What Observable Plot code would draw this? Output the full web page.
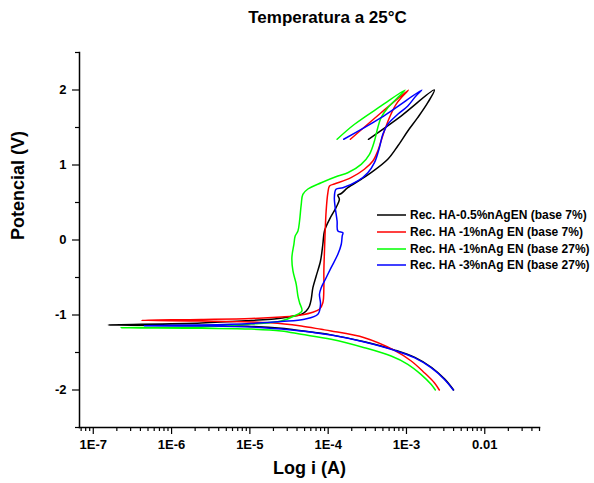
<!DOCTYPE html>
<html><head><meta charset="utf-8">
<script src="https://cdn.jsdelivr.net/npm/d3@7"></script>
<script src="https://cdn.jsdelivr.net/npm/@observablehq/plot@0.6"></script>
<style>
body{margin:0;background:#fff;}
#wrap{position:relative;width:594px;height:483px;font-family:"Liberation Sans",Arial,sans-serif;}
#legend{position:absolute;left:377px;top:207px;font-size:12px;font-weight:bold;color:#000;}
.row{display:flex;align-items:center;height:16.7px;white-space:nowrap;}
.row svg{margin-right:4px;}
</style></head><body><div id="wrap"><div id="legend"></div></div>
<script>
const title = "Temperatura a 25°C";
const xLabel = "Log i (A)";
const yLabel = "Potencial (V)";
const names = ["Rec. HA-0.5%nAgEN (base 7%)", "Rec. HA -1%nAg EN (base 7%)", "Rec. HA -1%nAg EN (base 27%)", "Rec. HA -3%nAg EN (base 27%)"];
const colors = ["#000000", "#ff0000", "#00ff00", "#0000ff"];

const xDomain = [6.67e-8, 0.05];
const yDomain = [-2.5, 2.5];
const xTicks = [1e-7, 1e-6, 1e-5, 1e-4, 1e-3, 1e-2];
const xTickLabels = ["1E-7", "1E-6", "1E-5", "1E-4", "1E-3", "0.01"];
const yTicks = [-2, -1, 0, 1, 2];
const yMinor = [-2.5, -1.5, -0.5, 0.5, 1.5, 2.5];
const minorMult = [2, 3, 4, 5, 6, 7, 8, 9];
const decades = [-8, -7, -6, -5, -4, -3, -2];

// Black: Rec. HA-0.5%nAgEN (base 7%)
const blackI = [4.0e-3, 3.08e-3, 2.1e-3, 1.28e-3, 7.1e-4, 2.9e-4, 1.09e-4, 4.53e-5, 2.52e-5, 1.04e-5, 2.4e-6, 1.55e-7,
  2.4e-6, 1.04e-5, 2.05e-5, 3.37e-5, 4.53e-5, 5.24e-5, 5.77e-5, 6.07e-5, 6.38e-5, 7.03e-5,
  7.98e-5, 8.55e-5, 8.97e-5, 1.04e-4, 1.26e-4, 1.39e-4, 1.33e-4, 1.47e-4, 1.78e-4, 2.64e-4,
  3.53e-4, 5.77e-4, 7.74e-4, 1.04e-3, 1.39e-3, 1.87e-3, 2.27e-3, 8.53e-4, 3.27e-4];
const blackE = [-2.0, -1.855, -1.70, -1.565, -1.468, -1.358, -1.265, -1.21, -1.178, -1.152, -1.14, -1.133,
  -1.107, -1.073, -1.053, -1.02, -0.991, -0.947, -0.88, -0.791, -0.636, -0.48,
  -0.28, -0.057, 0.12, 0.276, 0.431, 0.543, 0.6, 0.62, 0.697, 0.809,
  0.897, 1.076, 1.253, 1.453, 1.631, 1.831, 2.0, 1.653, 1.343];

// Red: Rec. HA -1%nAg EN (base 7%)
const redI = [2.63e-3, 2.27e-3, 1.69e-3, 1.15e-3, 7.01e-4, 2.9e-4, 1.09e-4, 8.15e-5, 4.53e-5, 2.75e-5, 1.04e-5, 2.4e-6, 4.12e-7,
  2.4e-6, 1.04e-5, 2.52e-5, 3.68e-5, 6.07e-5, 7.74e-5, 8.55e-5, 8.81e-5, 8.81e-5, 8.97e-5, 9.16e-5, 9.42e-5, 9.91e-5,
  1.04e-4, 1.2e-4, 1.96e-4, 2.9e-4, 3.72e-4, 4.3e-4, 4.74e-4, 5.22e-4, 6.05e-4, 7.36e-4, 8.97e-4, 1.06e-3,
  4.74e-4, 1.92e-4];
const redE = [-2.0, -1.903, -1.769, -1.613, -1.471, -1.303, -1.213, -1.191, -1.147, -1.12, -1.093, -1.08, -1.071,
  -1.06, -1.047, -1.027, -1.013, -0.969, -0.924, -0.836, -0.636, -0.413, -0.147, 0.12, 0.387, 0.627,
  0.72, 0.747, 0.831, 0.943, 1.053, 1.187, 1.32, 1.453, 1.631, 1.809, 1.92, 2.0,
  1.697, 1.343];

// Green: Rec. HA -1%nAg EN (base 27%)
const greenI = [2.34e-3, 2.06e-3, 1.53e-3, 1.04e-3, 6.37e-4, 2.9e-4, 1.09e-4, 4.53e-5, 2.52e-5, 1.04e-5, 2.4e-6, 2.24e-7,
  2.4e-6, 1.04e-5, 2.52e-5, 3.68e-5, 4.62e-5, 4.31e-5, 4.11e-5, 3.91e-5, 3.55e-5, 3.44e-5, 3.65e-5, 3.79e-5, 4.11e-5,
  4.31e-5, 4.53e-5, 4.75e-5, 5.51e-5, 8.15e-5, 1.33e-4, 1.78e-4, 2.64e-4, 3.37e-4, 3.9e-4, 4.3e-4, 4.74e-4,
  5.77e-4, 7.36e-4, 9.59e-4, 4.74e-4, 2.17e-4, 1.3e-4];
const greenE = [-2.0, -1.924, -1.791, -1.657, -1.547, -1.436, -1.324, -1.257, -1.213, -1.187, -1.177, -1.169,
  -1.16, -1.12, -1.08, -1.013, -0.947, -0.836, -0.747, -0.591, -0.413, -0.236, -0.057, 0.053, 0.12,
  0.253, 0.476, 0.609, 0.68, 0.764, 0.853, 0.897, 1.009, 1.143, 1.32, 1.497, 1.631,
  1.764, 1.876, 2.0, 1.787, 1.543, 1.343];

// Blue: Rec. HA -3%nAg EN (base 27%)
const blueI = [3.96e-3, 3.04e-3, 2.06e-3, 1.26e-3, 7.01e-4, 2.9e-4, 1.09e-4, 4.53e-5, 2.52e-5, 1.04e-5, 2.4e-6, 4.5e-7,
  2.4e-6, 1.04e-5, 2.52e-5, 4.99e-5, 7.39e-5, 7.98e-5, 7.74e-5, 8.15e-5, 9.42e-5, 1.09e-4, 1.33e-4, 1.47e-4,
  1.51e-4, 1.54e-4, 1.33e-4, 1.3e-4, 1.23e-4, 1.2e-4, 1.26e-4, 1.54e-4, 2.39e-4, 3.21e-4, 3.9e-4, 4.51e-4,
  4.99e-4, 5.77e-4, 7.74e-4, 1.04e-3, 1.32e-3, 1.57e-3, 4.74e-4, 1.58e-4];
const blueE = [-2.0, -1.857, -1.703, -1.569, -1.471, -1.36, -1.267, -1.213, -1.187, -1.16, -1.147, -1.143,
  -1.133, -1.113, -1.087, -1.057, -0.991, -0.857, -0.724, -0.636, -0.503, -0.369, -0.191, -0.057,
  0.053, 0.097, 0.12, 0.253, 0.431, 0.564, 0.676, 0.697, 0.787, 0.897, 1.031, 1.231,
  1.409, 1.543, 1.676, 1.787, 1.92, 2.0, 1.631, 1.343];

const series = [
  {name: names[0], I: blackI, E: blackE},
  {name: names[1], I: redI, E: redE},
  {name: names[2], I: greenI, E: greenE},
  {name: names[3], I: blueI, E: blueE}
];
const rows = series.flatMap(s => s.I.map((v, k) => ({series: s.name, i: v, E: s.E[k]})));

const xMinor = decades.flatMap(e => minorMult.map(m => m * Math.pow(10, e)))
  .filter(v => v >= xDomain[0] && v <= xDomain[1] * 1.0001);
const xLabelMap = new Map(xTicks.map((t, k) => [t, xTickLabels[k]]));

const chart = Plot.plot({
  width: 594, height: 483,
  marginLeft: 79, marginRight: 55, marginTop: 52, marginBottom: 56,
  style: {fontFamily: "'Liberation Sans', Arial, sans-serif", fontWeight: "bold", background: "white", color: "black"},
  x: {type: "log", domain: xDomain},
  y: {domain: yDomain},
  color: {domain: names, range: colors},
  marks: [
    Plot.axisX({ticks: xMinor, tickSize: 4, tickFormat: () => "", label: null, strokeWidth: 1.2}),
    Plot.axisX({ticks: xTicks, tickSize: 7, tickFormat: d => xLabelMap.get(d), fontSize: 13, tickPadding: 5, label: null, strokeWidth: 1.2}),
    Plot.axisY({ticks: yMinor, tickSize: 4, tickFormat: () => "", label: null, strokeWidth: 1.2}),
    Plot.axisY({ticks: yTicks, tickSize: 7, tickFormat: d => String(d), fontSize: 13, tickPadding: 6, label: null, strokeWidth: 1.2}),
    Plot.frame({anchor: "left", strokeWidth: 1.5}),
    Plot.frame({anchor: "bottom", strokeWidth: 1.5}),
    Plot.line(rows, {x: "i", y: "E", z: "series", stroke: "series", strokeWidth: 1.5, curve: "catmull-rom"}),
    Plot.text([title], {frameAnchor: "top", lineAnchor: "middle", dy: -35, dx: 18, fontSize: 17}),
    Plot.text([xLabel], {frameAnchor: "bottom", lineAnchor: "middle", dy: 41, fontSize: 18}),
    Plot.text([yLabel], {frameAnchor: "left", lineAnchor: "middle", rotate: -90, dx: -61, fontSize: 18})
  ]
});
const wrap = document.getElementById("wrap");
wrap.insertBefore(chart, wrap.firstChild);

const legend = document.getElementById("legend");
names.forEach((n, k) => {
  const row = document.createElement("div");
  row.className = "row";
  row.innerHTML = `<svg width="29" height="6"><line x1="0" x2="29" y1="3" y2="3" stroke="${colors[k]}" stroke-width="1.5"/></svg><span>${n}</span>`;
  legend.appendChild(row);
});
</script></body></html>
